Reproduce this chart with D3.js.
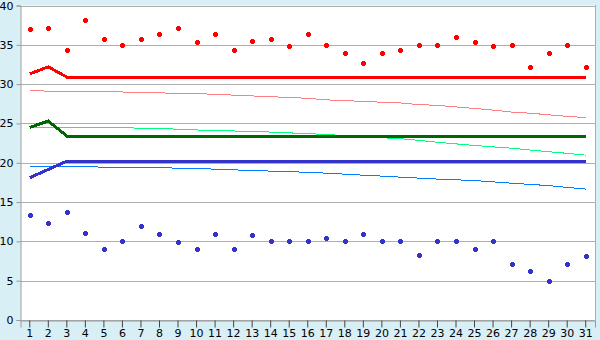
<!DOCTYPE html>
<html><head><meta charset="utf-8">
<script src="https://cdn.jsdelivr.net/npm/d3@7"></script>
<style>html,body{margin:0;padding:0;background:#d9eff6;}svg{display:block;}</style>
</head><body>
<svg id="c" width="600" height="340"></svg>
<script>
const days = d3.range(1, 32).map(String);
const yTicks = [0, 5, 10, 15, 20, 25, 30, 35, 40];

const redPoints = [37.0,37.2,34.4,38.1,35.8,35.0,35.7,36.4,37.2,35.3,36.4,34.4,35.5,35.8,34.9,36.4,35.0,33.9,32.7,34.0,34.4,35.0,35.0,36.0,35.3,34.9,35.0,32.2,33.9,35.0,32.2];
const bluePoints = [13.4,12.4,13.7,11.1,9.0,10.0,12.0,11.0,9.9,9.0,11.0,9.0,10.8,10.0,10.0,10.0,10.4,10.1,11.0,10.0,10.0,8.3,10.0,10.0,9.0,10.0,7.1,6.2,5.0,7.1,8.1];

const redThick = [31.3,32.2,30.9,30.9,30.9,30.9,30.9,30.9,30.9,30.9,30.9,30.9,30.9,30.9,30.9,30.9,30.9,30.9,30.9,30.9,30.9,30.9,30.9,30.9,30.9,30.9,30.9,30.9,30.9,30.9,30.9];
const greenThick = [24.5,25.3,23.4,23.4,23.4,23.4,23.4,23.4,23.4,23.4,23.4,23.4,23.4,23.4,23.4,23.4,23.4,23.4,23.4,23.4,23.4,23.4,23.4,23.4,23.4,23.4,23.4,23.4,23.4,23.4,23.4];
const blueThick = [18.1,19.15,20.2,20.2,20.2,20.2,20.2,20.2,20.2,20.2,20.2,20.2,20.2,20.2,20.2,20.2,20.2,20.2,20.2,20.2,20.2,20.2,20.2,20.2,20.2,20.2,20.2,20.2,20.2,20.2,20.2];

const pinkThin = [29.2,29.1,29.1,29.0,29.0,29.0,28.9,28.9,28.8,28.8,28.7,28.6,28.5,28.4,28.3,28.2,28.0,27.9,27.8,27.7,27.6,27.4,27.3,27.1,26.9,26.7,26.45,26.3,26.1,25.9,25.75];
const greenThin = [24.5,24.5,24.5,24.5,24.5,24.45,24.4,24.35,24.27,24.17,24.08,24.04,24.0,23.9,23.8,23.7,23.6,23.45,23.3,23.18,23.06,22.85,22.6,22.4,22.2,22.02,21.85,21.62,21.4,21.2,20.97];
const blueThin = [19.57,19.57,19.57,19.5,19.44,19.44,19.44,19.38,19.31,19.25,19.19,19.1,19.0,18.94,18.87,18.78,18.68,18.55,18.42,18.3,18.17,18.05,17.92,17.83,17.73,17.57,17.4,17.25,17.09,16.87,16.65];

const svg = d3.select("#c");
const W = 600, H = 340;
const x = d3.scaleBand().domain(days).range([20.5, 595]).padding(0);
const y = d3.scaleLinear().domain([0, 40]).range([320, 5.5]);
const cx = d => x(d) + x.bandwidth() / 2;

svg.append("rect").attr("width", W).attr("height", H).attr("fill", "#d9eff6");
svg.append("rect").attr("x", 20.5).attr("y", 5.5).attr("width", 574.5).attr("height", 314.5).attr("fill", "#ffffff");

// gridlines
svg.append("g").selectAll("line").data(yTicks).join("line")
  .attr("x1", 20.5).attr("x2", 595)
  .attr("y1", d => Math.round(y(d)) + 0.5).attr("y2", d => Math.round(y(d)) + 0.5)
  .attr("stroke", "#adadad").attr("stroke-width", 1);
// right border
svg.append("line").attr("x1", 595.5).attr("x2", 595.5).attr("y1", 5).attr("y2", 320.5)
  .attr("stroke", "#adadad");

// axes
const yAxis = svg.append("g").attr("transform", "translate(20.5,0)")
  .call(d3.axisLeft(y).tickValues(yTicks).tickSize(4).tickPadding(3).tickFormat(d3.format("d")));
yAxis.selectAll("line").attr("stroke", "#999");
yAxis.select(".domain").attr("stroke", "#999");
yAxis.selectAll("text").attr("font-family", "DejaVu Sans, Verdana, sans-serif").attr("font-size", 11).attr("fill", "#000");

const xAxis = svg.append("g").attr("transform", "translate(0,320.5)")
  .call(d3.axisBottom(x).tickSize(7).tickPadding(2));
xAxis.selectAll("line").attr("stroke", "#444");
xAxis.select(".domain").attr("stroke", "#999");
xAxis.selectAll("text").attr("font-family", "DejaVu Sans, Verdana, sans-serif").attr("font-size", 11).attr("fill", "#000");

const line = d3.line().x((d, i) => cx(days[i])).y(d => y(d));

function drawLine(data, color, width, crisp) {
  svg.append("path").datum(data).attr("d", line)
    .attr("fill", "none").attr("stroke", color).attr("stroke-width", width)
    .attr("shape-rendering", crisp ? "crispEdges" : "auto");
}
drawLine(pinkThin, "#ff8080", 1, true);
drawLine(greenThin, "#00ff80", 1, true);
drawLine(blueThin, "#0080ff", 1, true);
drawLine(redThick, "#ff0000", 3, true);
drawLine(greenThick, "#006600", 3, true);
drawLine(blueThick, "#3333cc", 3, true);

const marker = "M-2.5,-1.5h5v3h-5zM-1.5,-2.5h3v5h-3z";
function drawPoints(data, color) {
  svg.append("g").selectAll("path").data(data).join("path")
    .attr("d", marker)
    .attr("transform", (d, i) => `translate(${Math.round(cx(days[i]))},${Math.round(y(d))})`)
    .attr("fill", color).attr("shape-rendering", "crispEdges");
}
drawPoints(redPoints, "#ff0000");
drawPoints(bluePoints, "#3333cc");
</script>
</body></html>
